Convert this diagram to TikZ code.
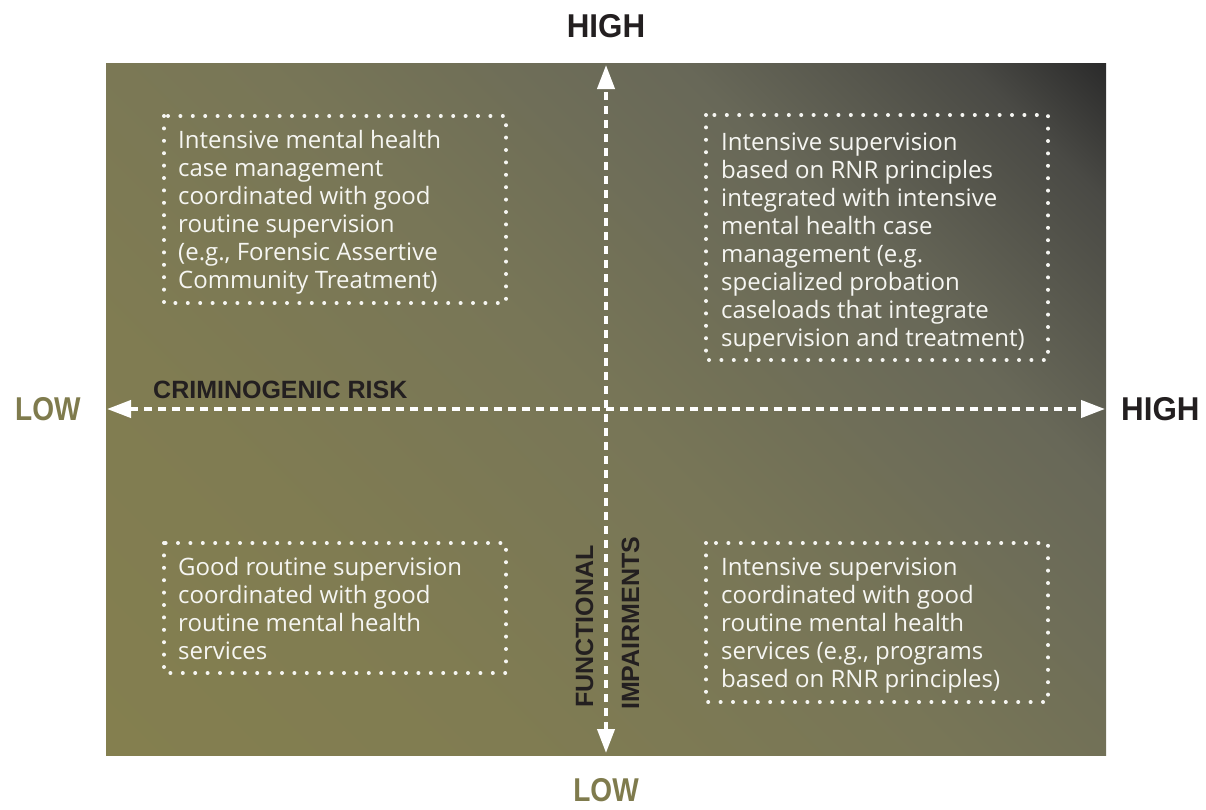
\documentclass[tikz,border=0pt]{standalone}
\usepackage{fontspec}
\setmainfont{Open Sans}
\newfontfamily\labfont{Liberation Sans}
\newfontfamily\labhi{Liberation Sans}[FakeStretch=0.95]
\newfontfamily\lablo{Liberation Sans}[FakeStretch=0.85]
\usetikzlibrary{arrows.meta}
\definecolor{bgA}{HTML}{847F4F}
\definecolor{bgB}{HTML}{807C52}
\definecolor{bgC}{HTML}{787657}
\definecolor{bgD}{HTML}{686858}
\definecolor{bgE}{HTML}{4A4A45}
\definecolor{bgF}{HTML}{2B2B2B}
\definecolor{darktext}{HTML}{231F20}
\definecolor{olivetext}{HTML}{7F7B4D}
\definecolor{boxwhite}{HTML}{F6F6F2}
\pgfdeclarehorizontalshading{bgshade}{100bp}{color(0bp)=(bgA); color(14.6bp)=(bgA); color(32.3bp)=(bgB); color(50bp)=(bgC); color(67.7bp)=(bgD); color(79.7bp)=(bgE); color(85.4bp)=(bgF); color(100bp)=(bgF)}
\begin{document}
\begin{tikzpicture}[x=1pt,y=-1pt,
  dotbox/.style={draw=boxwhite, line width=4pt, line cap=round, dash pattern=on 0pt off 12.4pt},
  boxtext/.style={anchor=base west, inner sep=0pt, text=boxwhite, font=\fontsize{24}{28}\selectfont},
  axisline/.style={draw=white, line width=4pt, dash pattern=on 8pt off 6pt,
    arrows={Triangle[width=17pt,length=24pt]-Triangle[width=17pt,length=24pt]}},
  hilab/.style={inner sep=0pt, text=darktext, font=\labhi\bfseries\fontsize{33}{36}\selectfont},
  lolab/.style={inner sep=0pt, text=olivetext, font=\lablo\bfseries\fontsize{33}{36}\selectfont},
  axlab/.style={inner sep=0pt, text=darktext, font=\labfont\bfseries\fontsize{25}{28}\selectfont}
]
\useasboundingbox (0,0) rectangle (1206,809);
\shade[shading=bgshade, shading angle=45] (106,63) rectangle (1106,755);

% dotted boxes
\draw[dotbox] (164,116) rectangle (506,303);
\draw[dotbox] (706,115) rectangle (1048,360);
\draw[dotbox] (164,543) rectangle (506,673);
\draw[dotbox] (706,543) rectangle (1048,702);

% box texts
\node[boxtext] (tl) at (178,148) {\begin{tabular}[t]{@{}l@{}}Intensive mental health\\case management\\coordinated with good\\routine supervision\\(e.g., Forensic Assertive\\Community Treatment)\end{tabular}};
\node[boxtext] (tr) at (721,150) {\begin{tabular}[t]{@{}l@{}}Intensive supervision\\based on RNR principles\\integrated with intensive\\mental health case\\management (e.g.\\specialized probation\\caseloads that integrate\\supervision and treatment)\end{tabular}};
\node[boxtext] (bl) at (178,575) {\begin{tabular}[t]{@{}l@{}}Good routine supervision\\coordinated with good\\routine mental health\\services\end{tabular}};
\node[boxtext] (br) at (721,575) {\begin{tabular}[t]{@{}l@{}}Intensive supervision\\coordinated with good\\routine mental health\\services (e.g., programs\\based on RNR principles)\end{tabular}};

% axes
\coordinate (xl) at (107,409);
\coordinate (xr) at (1105,409);
\coordinate (yb) at (606,753);
\coordinate (yt) at (606,65);
\draw[axisline] (xl) -- (xr);
\draw[axisline] (yb) -- (yt);

% axis labels
\node[axlab, anchor=base west] (risk) at (153,398) {CRIMINOGENIC RISK};
\node[axlab, anchor=base west, rotate=90] (func) at (593,708) {FUNCTIONAL};
\node[axlab, anchor=base west, rotate=90] (impair) at (639,710) {IMPAIRMENTS};

\node[hilab, anchor=base] (hightop) at (606,37) {HIGH};
\node[hilab, anchor=base west] (highright) at (1121,420) {HIGH};
\node[lolab, anchor=base west] (lowleft) at (15,420) {LOW};
\node[lolab, anchor=base] (lowbottom) at (606,801) {LOW};
\end{tikzpicture}
\end{document}
